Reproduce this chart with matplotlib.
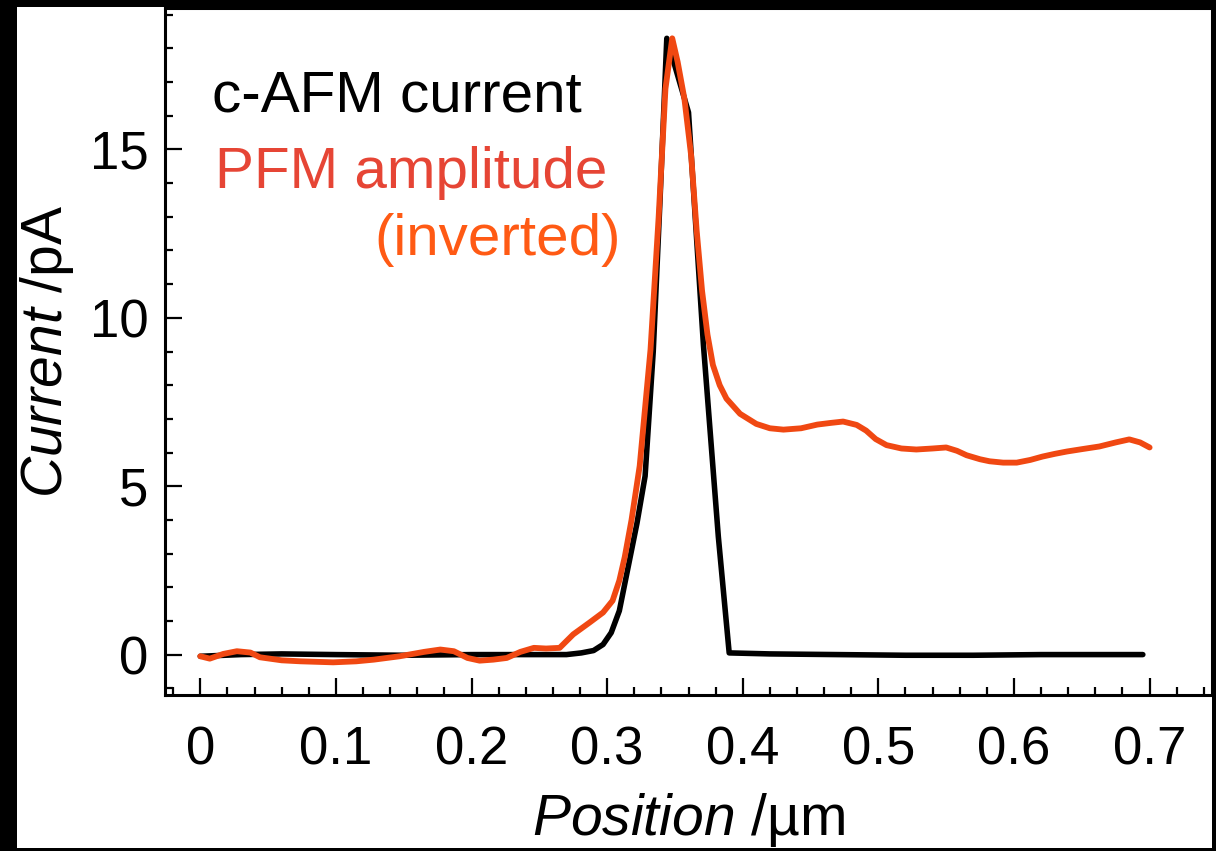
import matplotlib
matplotlib.use("Agg")
import matplotlib.pyplot as plt
from matplotlib.patches import Rectangle
from matplotlib.ticker import MultipleLocator

# c-AFM current profile (pA) along the scan line (um)
cafm_pos = [0.000, 0.030, 0.060, 0.100, 0.150, 0.200, 0.250, 0.270, 0.281, 0.290,
            0.297, 0.303, 0.309, 0.315, 0.322, 0.328, 0.334, 0.339, 0.344, 0.360,
            0.371, 0.382, 0.390, 0.420, 0.470, 0.520, 0.570, 0.620, 0.660, 0.695]
cafm_current = [-0.05, 0.00, 0.02, 0.00, -0.02, 0.00, 0.00, 0.00, 0.05, 0.12,
                0.30, 0.65, 1.30, 2.50, 3.90, 5.30, 9.00, 13.50, 18.30, 16.10,
                9.20, 3.50, 0.05, 0.02, 0.00, -0.02, -0.02, 0.00, 0.00, 0.00]

# PFM amplitude profile, inverted and scaled onto the current axis
pfm_pos = [0.000, 0.007, 0.017, 0.027, 0.037, 0.044, 0.060, 0.074, 0.098, 0.115,
           0.128, 0.147, 0.165, 0.177, 0.187, 0.197, 0.206, 0.216, 0.226, 0.236,
           0.246, 0.255, 0.265, 0.275, 0.287, 0.297, 0.304, 0.309, 0.313, 0.318,
           0.324, 0.332, 0.338, 0.343, 0.348, 0.352, 0.357, 0.362, 0.366, 0.370,
           0.374, 0.378, 0.383, 0.388, 0.398, 0.410, 0.420, 0.430, 0.443, 0.455,
           0.465, 0.474, 0.484, 0.491, 0.498, 0.506, 0.517, 0.528, 0.540, 0.550,
           0.558, 0.565, 0.575, 0.582, 0.592, 0.602, 0.612, 0.621, 0.630, 0.639,
           0.650, 0.663, 0.675, 0.685, 0.693, 0.700]
pfm_amp = [-0.05, -0.12, 0.02, 0.10, 0.06, -0.08, -0.17, -0.20, -0.23, -0.20,
           -0.15, -0.05, 0.08, 0.15, 0.10, -0.10, -0.18, -0.15, -0.10, 0.08,
           0.20, 0.18, 0.20, 0.60, 0.95, 1.25, 1.60, 2.20, 2.90, 4.00,
           5.60, 9.06, 13.00, 16.80, 18.30, 17.60, 16.50, 14.80, 12.60, 10.80,
           9.50, 8.60, 8.00, 7.60, 7.15, 6.85, 6.72, 6.68, 6.72, 6.83,
           6.88, 6.92, 6.82, 6.65, 6.40, 6.22, 6.12, 6.09, 6.12, 6.15,
           6.05, 5.92, 5.80, 5.74, 5.70, 5.70, 5.78, 5.88, 5.96, 6.03,
           6.10, 6.18, 6.30, 6.39, 6.30, 6.15]

x_ticks = [0.0, 0.1, 0.2, 0.3, 0.4, 0.5, 0.6, 0.7]
x_tick_labels = ["0", "0.1", "0.2", "0.3", "0.4", "0.5", "0.6", "0.7"]
y_ticks = [0, 5, 10, 15]
y_tick_labels = ["0", "5", "10", "15"]

plt.rcParams["font.family"] = ["Liberation Sans", "DejaVu Sans"]
plt.rcParams["mathtext.fontset"] = "custom"
plt.rcParams["mathtext.it"] = "Liberation Sans:italic"
plt.rcParams["mathtext.rm"] = "Liberation Sans"

W, H = 1216, 851
fig = plt.figure(figsize=(W / 100, H / 100), dpi=100, facecolor="black")

# white sheet inside the black frame
fig.add_artist(Rectangle((17 / W, 3 / H), (1212 - 17) / W, (848 - 7) / H,
                         transform=fig.transFigure, facecolor="white",
                         edgecolor="none", zorder=0))

ax_l, ax_r, ax_t, ax_b = 165, 1212, 8, 695
ax = fig.add_axes([ax_l / W, (H - ax_b) / H, (ax_r - ax_l) / W, (ax_b - ax_t) / H])
ax.set_facecolor("white")

ax.plot(cafm_pos, cafm_current, color="black", lw=4.0, solid_joinstyle="round",
        solid_capstyle="round", zorder=3)
ax.plot(pfm_pos, pfm_amp, color="#f04812", lw=4.2, solid_joinstyle="round",
        solid_capstyle="round", zorder=4)

ax.set_xlim(-0.026, 0.746)
ax.set_ylim(-1.2, 19.2)

ax.set_xticks(x_ticks)
ax.set_xticklabels(x_tick_labels)
ax.set_yticks(y_ticks)
ax.set_yticklabels(y_tick_labels)
ax.xaxis.set_minor_locator(MultipleLocator(0.02))
ax.yaxis.set_minor_locator(MultipleLocator(1))

ax.tick_params(which="both", direction="in", top=False, right=False, width=1.6,
               color="black")
ax.tick_params(which="major", length=12.5, labelsize=38)
ax.tick_params(which="minor", length=6)
ax.tick_params(axis="x", which="major", pad=22)
ax.tick_params(axis="y", which="major", pad=12)

for s in ax.spines.values():
    s.set_linewidth(2.2)
    s.set_color("black")

ax.set_xlabel(r"$\mathit{Position}$ /µm", fontsize=41)
ax.set_ylabel(r"$\mathit{Current}$ /pA", fontsize=41)
ax.xaxis.set_label_coords(0.50, -0.14)
ax.yaxis.set_label_coords(-0.085, 0.50)

ax.text(0.045, 0.849, "c-AFM current", transform=ax.transAxes, fontsize=42,
        color="black", ha="left", va="baseline")
ax.text(0.048, 0.738, "PFM amplitude", transform=ax.transAxes, fontsize=42,
        color="#e64535", ha="left", va="baseline")
ax.text(0.435, 0.640, "(inverted)", transform=ax.transAxes, fontsize=42,
        color="#ff5a14", ha="right", va="baseline")

fig.savefig("out.png", dpi=100, facecolor="black")
